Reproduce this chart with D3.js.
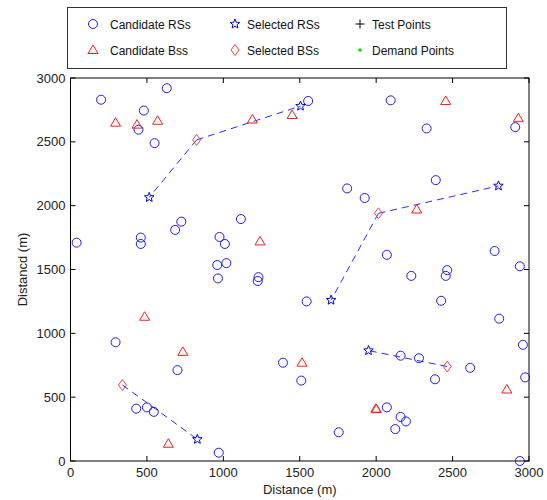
<!DOCTYPE html>
<html>
<head>
<meta charset="utf-8">
<script src="https://cdn.jsdelivr.net/npm/d3@7"></script>
<style>
  body { margin: 0; background: #fff; }
  svg { display: block; font-family: "Liberation Sans", Arial, sans-serif; }
</style>
</head>
<body>
<div id="chart"></div>
<script>
// values (metres)
var candidateRS = [
    [200,2830],[630,2920],[480,2745],[445,2595],[550,2490],[40,1710],[460,1750],[460,1700],
    [685,1810],[725,1875],[1115,1895],[975,1755],[1010,1700],[960,1535],[1020,1550],[965,1430],
    [1230,1440],[1225,1410],[295,930],[700,712],[430,410],[500,420],[545,385],[970,65],
    [1555,2820],[2095,2825],[2330,2605],[2910,2615],[2390,2200],[1810,2135],[1925,2060],[2070,1615],
    [2775,1645],[2940,1525],[2465,1495],[2455,1450],[2230,1450],[1545,1250],[2425,1255],[2805,1115],
    [2960,910],[2160,825],[2280,805],[2615,730],[1390,770],[1510,630],[2385,640],[2975,655],
    [2070,420],[2160,345],[2195,310],[2125,250],[1755,225],[2940,0]
];
var candidateBS = [
    [295,2650],[435,2635],[570,2665],[1190,2675],[1450,2710],[2455,2820],[2930,2685],[1240,1720],
    [2265,1970],[485,1130],[735,855],[640,135],[1515,770],[1998,410],[2002,406],[2855,560]
];
var selectedRS = [[515,2065],[1505,2780],[1705,1260],[2800,2155],[1950,865],[830,170]];
var selectedBS = [[825,2515],[2015,1940],[2465,740],[340,595]];
// [selectedBS index, selectedRS index]
var links = [[0,0],[0,1],[1,2],[1,3],[2,4],[3,5]];
var testPoints = [];
var demandPoints = [];

var ticks = [0, 500, 1000, 1500, 2000, 2500, 3000];
var legendNames = ["Candidate RSs", "Selected RSs", "Test Points", "Candidate Bss", "Selected BSs", "Demand Points"];
var legendKinds = ["circle", "star", "plus", "triangle", "diamond", "dot"];

var width = 547, height = 500;
var plotL = 70.5, plotR = 529, plotT = 78, plotB = 461;

var x = d3.scaleLinear().domain([0, 3000]).range([plotL, plotR]);
var y = d3.scaleLinear().domain([0, 3000]).range([plotB, plotT]);

var svg = d3.select("#chart").append("svg")
    .attr("width", width)
    .attr("height", height);

// marker shapes, MATLAB style
function markerPath(kind) {
    if (kind == "triangle") return "M0,-5L5,3.5L-5,3.5Z";
    if (kind == "diamond") return "M0,-5.5L4,0L0,5.5L-4,0Z";
    if (kind == "plus") return "M-4.5,0H4.5M0,-4.5V4.5";
    if (kind == "star") {
        var p = [];
        for (var i = 0; i < 10; i++) {
            var r = i % 2 == 0 ? 5 : 2.2;
            var a = -Math.PI / 2 + i * Math.PI / 5;
            p.push([r * Math.cos(a), r * Math.sin(a)]);
        }
        return "M" + p.join("L") + "Z";
    }
    return null;
}
var styles = {
    circle: { stroke: "#1a1aff", fill: "none" },
    triangle: { stroke: "#ff1a1a", fill: "none" },
    star: { stroke: "#0000ee", fill: "none" },
    diamond: { stroke: "#ff4040", fill: "none" },
    plus: { stroke: "#000", fill: "none" },
    dot: { stroke: "none", fill: "#00dd00" }
};

function drawMarker(g, kind, px, py) {
    var s = styles[kind];
    if (kind == "circle") {
        g.append("circle").attr("cx", px).attr("cy", py).attr("r", 4.5)
            .attr("fill", s.fill).attr("stroke", s.stroke).attr("stroke-width", 1);
    } else if (kind == "dot") {
        g.append("circle").attr("cx", px).attr("cy", py).attr("r", 1.8).attr("fill", s.fill);
    } else {
        g.append("path").attr("d", markerPath(kind))
            .attr("transform", "translate(" + px + "," + py + ")")
            .attr("fill", s.fill).attr("stroke", s.stroke).attr("stroke-width", 1);
    }
}

// frame
svg.append("rect")
    .attr("x", plotL).attr("y", plotT)
    .attr("width", plotR - plotL).attr("height", plotB - plotT)
    .attr("fill", "#fff").attr("stroke", "#000").attr("stroke-width", 1);

// inward ticks on all four sides
var tk = svg.append("g").attr("stroke", "#000").attr("stroke-width", 1);
ticks.forEach(function (t) {
    tk.append("line").attr("x1", x(t)).attr("x2", x(t)).attr("y1", plotB).attr("y2", plotB - 5);
    tk.append("line").attr("x1", x(t)).attr("x2", x(t)).attr("y1", plotT).attr("y2", plotT + 5);
    tk.append("line").attr("y1", y(t)).attr("y2", y(t)).attr("x1", plotL).attr("x2", plotL + 5);
    tk.append("line").attr("y1", y(t)).attr("y2", y(t)).attr("x1", plotR).attr("x2", plotR - 5);
});

svg.append("g").selectAll("text")
    .data(ticks).enter().append("text")
    .attr("x", function (d) { return x(d); })
    .attr("y", plotB + 16)
    .attr("text-anchor", "middle")
    .attr("font-size", 13)
    .attr("fill", "#222")
    .text(function (d) { return d; });

svg.append("g").selectAll("text")
    .data(ticks).enter().append("text")
    .attr("x", plotL - 5)
    .attr("y", function (d) { return y(d) + 4.5; })
    .attr("text-anchor", "end")
    .attr("font-size", 13)
    .attr("fill", "#222")
    .text(function (d) { return d; });

svg.append("text")
    .attr("x", (plotL + plotR) / 2).attr("y", 494)
    .attr("text-anchor", "middle").attr("font-size", 13).attr("fill", "#222")
    .text("Distance (m)");

svg.append("text")
    .attr("transform", "translate(27," + (plotT + plotB) / 2 + ") rotate(-90)")
    .attr("text-anchor", "middle").attr("font-size", 13).attr("fill", "#222")
    .text("Distancd (m)");

// links between selected BSs and RSs
svg.append("g").selectAll("line")
    .data(links).enter().append("line")
    .attr("x1", function (d) { return x(selectedBS[d[0]][0]); })
    .attr("y1", function (d) { return y(selectedBS[d[0]][1]); })
    .attr("x2", function (d) { return x(selectedRS[d[1]][0]); })
    .attr("y2", function (d) { return y(selectedRS[d[1]][1]); })
    .attr("stroke", "#2a2aff")
    .attr("stroke-width", 1)
    .attr("stroke-dasharray", "7,5");

var marks = svg.append("g");
[[candidateRS, "circle"], [candidateBS, "triangle"], [selectedRS, "star"],
 [selectedBS, "diamond"], [testPoints, "plus"], [demandPoints, "dot"]].forEach(function (s) {
    s[0].forEach(function (p) { drawMarker(marks, s[1], x(p[0]), y(p[1])); });
});

// legend
var lg = svg.append("g");
lg.append("rect")
    .attr("x", 67.5).attr("y", 7.5).attr("width", 439).attr("height", 61)
    .attr("fill", "#fff").attr("stroke", "#333").attr("stroke-width", 1);
var colX = [93, 235, 360], textX = [110, 247, 372], rowY = [24, 50];
legendNames.forEach(function (name, i) {
    var c = i % 3, r = Math.floor(i / 3);
    drawMarker(lg, legendKinds[i], colX[c], rowY[r]);
    lg.append("text")
        .attr("x", textX[c]).attr("y", rowY[r] + 4.5)
        .attr("font-size", 12).attr("fill", "#111")
        .text(name);
});
</script>
</body>
</html>
